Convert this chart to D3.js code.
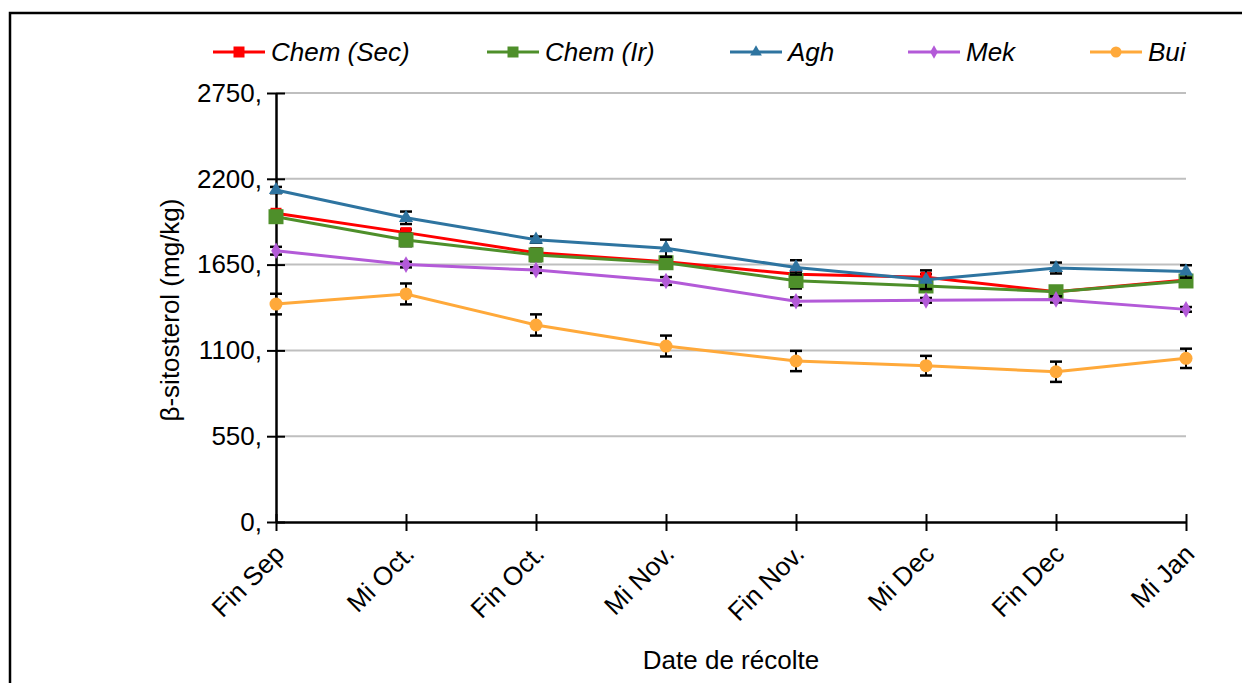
<!DOCTYPE html>
<html>
<head>
<meta charset="utf-8">
<script src="https://cdn.jsdelivr.net/npm/d3@7"></script>
<style>
  body { margin: 0; background: #fff; }
  text { font-family: "Liberation Sans", Arial, sans-serif; }
</style>
</head>
<body>
<div id="chart"></div>
<script>
const dates = ['Fin Sep', 'Mi Oct.', 'Fin Oct.', 'Mi Nov.', 'Fin Nov.', 'Mi Dec', 'Fin Dec', 'Mi Jan'];
const yTicks = [0, 550, 1100, 1650, 2200, 2750];

const chemSec = [1979, 1855, 1726, 1669, 1588, 1569, 1476, 1551];
const chemSecErr = [15, 20, 15, 15, 15, 20, 15, 15];
const chemIr = [1957, 1808, 1712, 1662, 1547, 1513, 1476, 1545];
const chemIrErr = [20, 40, 40, 25, 50, 30, 25, 30];
const agh = [2128, 1950, 1810, 1755, 1632, 1553, 1628, 1606];
const aghErr = [20, 40, 20, 55, 46, 60, 35, 40];
const mek = [1739, 1650, 1615, 1545, 1415, 1421, 1427, 1363];
const mekErr = [25, 18, 18, 25, 25, 15, 20, 15];
const bui = [1397, 1462, 1263, 1128, 1032, 1002, 963, 1049];
const buiErr = [66, 67, 68, 67, 65, 63, 65, 62];

const series = [
  {name: 'Chem (Sec)', values: chemSec, err: chemSecErr, color: '#ff0000', marker: 'square', size: 11},
  {name: 'Chem (Ir)', values: chemIr, err: chemIrErr, color: '#4e8f2a', marker: 'square', size: 15},
  {name: 'Agh', values: agh, err: aghErr, color: '#2e74a0', marker: 'triangle', size: 12},
  {name: 'Mek', values: mek, err: mekErr, color: '#b35ad8', marker: 'diamond', size: 10},
  {name: 'Bui', values: bui, err: buiErr, color: '#ffa93a', marker: 'circle', size: 13}
];

const width = 1242, height = 683;
const fs = 26;
const svg = d3.select('#chart').append('svg')
  .attr('width', width).attr('height', height);

// outer frame (runs off the right and bottom)
svg.append('rect')
  .attr('x', 10).attr('y', 13)
  .attr('width', 1260).attr('height', 700)
  .attr('fill', 'none').attr('stroke', '#000').attr('stroke-width', 2.5);

const x = d3.scalePoint().domain(dates).range([276, 1186]);
const y = d3.scaleLinear().domain([0, 2750]).range([522, 93]);

// gridlines
svg.append('g').selectAll('line')
  .data(yTicks.filter(d => d > 0))
  .join('line')
  .attr('x1', 276).attr('x2', 1186)
  .attr('y1', d => y(d)).attr('y2', d => y(d))
  .attr('stroke', '#bfbfbf').attr('stroke-width', 2);

// y axis
const yAxis = svg.append('g').attr('transform', 'translate(276,0)')
  .call(d3.axisLeft(y).tickValues(yTicks).tickSize(0).tickPadding(14).tickFormat(d => d + ','));
yAxis.select('.domain').attr('stroke', '#000').attr('stroke-width', 2.5);
yAxis.selectAll('.tick text').attr('font-size', fs).attr('fill', '#000');
yAxis.selectAll('.tick').append('line')
  .attr('x1', -9).attr('x2', 9).attr('stroke', '#000').attr('stroke-width', 2);

// x axis
const xAxis = svg.append('g').attr('transform', 'translate(0,522)')
  .call(d3.axisBottom(x).tickSize(0).tickFormat(''));
xAxis.select('.domain').attr('stroke', '#000').attr('stroke-width', 2.5);
xAxis.selectAll('.tick').append('line')
  .attr('y1', -8).attr('y2', 9).attr('stroke', '#000').attr('stroke-width', 2);
xAxis.selectAll('.tick').append('text')
  .attr('transform', 'translate(3,27) rotate(-45)')
  .attr('text-anchor', 'end')
  .attr('dy', '0.35em')
  .attr('font-size', fs)
  .attr('fill', '#000')
  .text(d => d);

// axis titles
svg.append('text')
  .attr('x', 731).attr('y', 669)
  .attr('text-anchor', 'middle').attr('font-size', fs)
  .text('Date de récolte');
svg.append('text')
  .attr('transform', 'translate(179,310) rotate(-90)')
  .attr('text-anchor', 'middle').attr('font-size', fs)
  .text('β-sitosterol (mg/kg)');

function symbolFor(s) {
  if (s.marker === 'square') return d3.symbol(d3.symbolSquare, s.size * s.size);
  if (s.marker === 'triangle') return d3.symbol(d3.symbolTriangle, s.size * s.size * 0.6);
  if (s.marker === 'diamond') return d3.symbol(d3.symbolDiamond, s.size * s.size * 0.8);
  return d3.symbol(d3.symbolCircle, Math.PI * s.size * s.size / 4);
}

const line = d3.line().x((d, i) => x(dates[i])).y(d => y(d));

series.forEach(s => {
  const g = svg.append('g');
  // error bars
  const eb = g.selectAll('g.err').data(s.values).join('g').attr('class', 'err');
  eb.append('line')
    .attr('x1', (d, i) => x(dates[i])).attr('x2', (d, i) => x(dates[i]))
    .attr('y1', (d, i) => y(d + s.err[i])).attr('y2', (d, i) => y(d - s.err[i]))
    .attr('stroke', '#000').attr('stroke-width', 2);
  [1, -1].forEach(sign => {
    eb.append('line')
      .attr('x1', (d, i) => x(dates[i]) - 6).attr('x2', (d, i) => x(dates[i]) + 6)
      .attr('y1', (d, i) => y(d + sign * s.err[i])).attr('y2', (d, i) => y(d + sign * s.err[i]))
      .attr('stroke', '#000').attr('stroke-width', 2.5);
  });
  g.append('path').datum(s.values)
    .attr('d', line)
    .attr('fill', 'none').attr('stroke', s.color).attr('stroke-width', 3);
  g.selectAll('path.mk').data(s.values).join('path').attr('class', 'mk')
    .attr('d', symbolFor(s))
    .attr('transform', (d, i) => `translate(${x(dates[i])},${y(d)})`)
    .attr('fill', s.color);
});

// legend
const legendX = [213, 487, 730, 908, 1090];
const leg = svg.append('g').selectAll('g').data(series).join('g')
  .attr('transform', (d, i) => `translate(${legendX[i]},52)`);
leg.append('line').attr('x1', 0).attr('x2', 52)
  .attr('stroke', d => d.color).attr('stroke-width', 3);
leg.append('path')
  .attr('d', d => symbolFor({marker: d.marker, size: d.marker === 'square' ? 11 : d.size - 2})())
  .attr('transform', 'translate(26,0)')
  .attr('fill', d => d.color);
leg.append('text')
  .attr('x', 58).attr('dy', '0.35em')
  .attr('font-size', fs).attr('font-style', 'italic')
  .text(d => d.name);
</script>
</body>
</html>
